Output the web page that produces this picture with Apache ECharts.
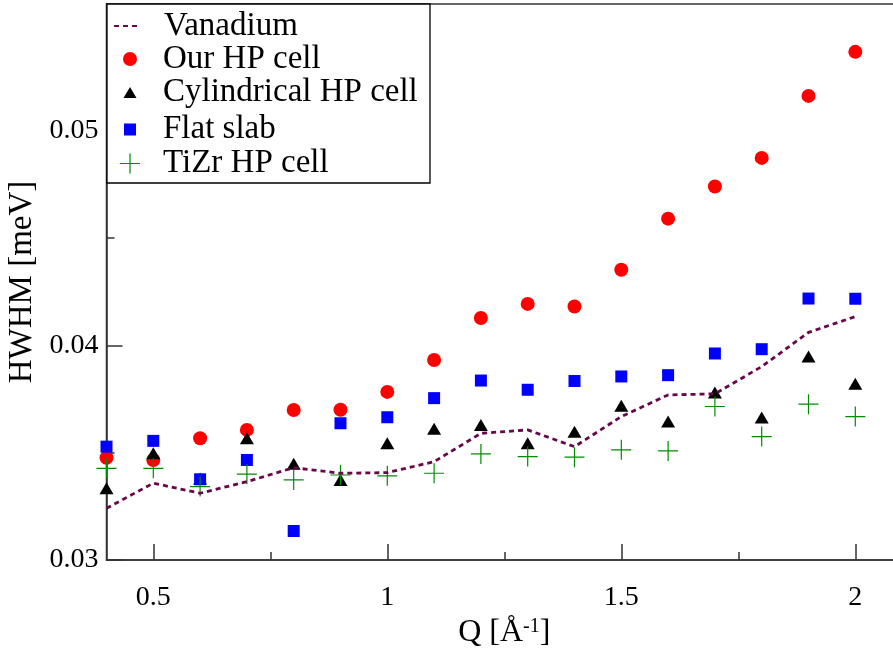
<!DOCTYPE html>
<html>
<head>
<meta charset="utf-8">
<script src="https://cdn.jsdelivr.net/npm/echarts@6/dist/echarts.min.js"></script>
<style>
html,body{margin:0;padding:0;background:#fff;}
#chart{width:893px;height:648px;}
</style>
</head>
<body>
<div id="chart"></div>
<script>
const q = [0.4,0.5,0.6,0.7,0.8,0.9,1.0,1.1,1.2,1.3,1.4,1.5,1.6,1.7,1.8,1.9,2.0];
const vanadium = [0.03241,0.03358,0.03311,0.03365,0.0343,0.03404,0.03407,0.03458,0.0359,0.03606,0.03528,0.03668,0.03769,0.03774,0.03901,0.0406,0.04134];
const ourHP = [0.03476,0.03466,0.03567,0.03606,0.03699,0.037,0.03783,0.03932,0.04127,0.04193,0.04181,0.04352,0.0459,0.0474,0.04873,0.05162,0.05367];
const cylindrical = [0.03334,0.03497,0.0338,0.03567,0.03448,0.03373,0.03544,0.03611,0.03629,0.03544,0.03598,0.03719,0.03645,0.0378,0.03664,0.03948,0.03821];
const flatSlab = [0.03528,0.03555,0.03376,0.03466,0.03135,0.03637,0.03665,0.03754,0.03836,0.03793,0.03834,0.03855,0.03861,0.03962,0.03982,0.04218,0.04217];
const tizr = [0.03427,0.03427,0.03342,0.034,0.03373,0.03396,0.03392,0.03404,0.03494,0.03482,0.03479,0.03513,0.03508,0.03715,0.03575,0.03726,0.03668];
const xMajorTicks = [0.5,1,1.5,2];
const xMinorTicks = [0.75,1.25,1.75];
const yMajorTicks = [0.03,0.04,0.05];
const yMinorTicks = [0.035,0.045];
const names = ['Vanadium','Our HP cell','Cylindrical HP cell','Flat slab','TiZr HP cell'];

const pair = arr => q.map((x,i)=>[x,arr[i]]);
const FONT = 'Liberation Serif';
const AX = '#333';
const plusPath = 'path://M0,9.4H20V10.6H0Z M9.4,0H10.6V20H9.4Z';

const chart = echarts.init(document.getElementById('chart'));
function lg(name, left, top, w, h, gap, icon, extra){
  const item = Object.assign({name:name}, extra || {});
  if (icon) item.icon = icon;
  return {data:[item], left:left, top:top, padding:0, itemWidth:w, itemHeight:h,
    textStyle:{fontFamily:FONT, fontSize:33, color:'#000', padding:[0,0,0,gap-5]},
    selectedMode:false, orient:'vertical', z:10};
}
chart.setOption({
  backgroundColor:'#fff',
  animation:false,
  grid:{left:106.5, top:4, width:795.6, height:556, show:true, borderColor:AX, borderWidth:1.5,
    backgroundColor:'transparent', outerBoundsMode:'none', containLabel:false},
  graphic:[{type:'rect', shape:{x:107, y:4, width:323, height:179}, style:{fill:'#fff', stroke:'#000', lineWidth:1.3}, z:5}],
  legend:[
    lg(names[0], 113, 9.5, 27, 14, 23, null, {itemStyle:{opacity:0, color:'rgba(0,0,0,0)', borderWidth:0}}),
    lg(names[1], 123, 42.5, 14, 14, 26),
    lg(names[2], 123.5, 76, 13, 11, 26.5),
    lg(names[3], 124, 113, 12, 12, 27),
    lg(names[4], 120, 147, 20, 20, 23, plusPath)
  ],
  xAxis:[{
    type:'value', min:0.4, max:2.1, position:'bottom',
    name:'Q [Å{sup|-1}]', nameLocation:'middle', nameGap:51,
    nameTextStyle:{fontFamily:FONT, fontSize:32, color:'#000', rich:{sup:{fontFamily:FONT, fontSize:20, verticalAlign:'top', color:'#000', padding:[0,0,6,0]}}},
    axisLine:{show:true, lineStyle:{color:AX, width:1.5}},
    axisTick:{show:true, inside:true, length:16, customValues:xMajorTicks, lineStyle:{color:AX, width:1.5}},
    axisLabel:{customValues:xMajorTicks, fontFamily:FONT, fontSize:28, color:'#000', margin:24},
    splitLine:{show:false}
  },{
    type:'value', min:0.4, max:2.1, position:'bottom', offset:0,
    axisLine:{show:false},
    axisTick:{show:true, inside:true, length:8, customValues:xMinorTicks, lineStyle:{color:AX, width:1.5}},
    axisLabel:{show:false}, splitLine:{show:false}
  }],
  yAxis:[{
    type:'value', min:0.03, max:0.0559, position:'left',
    name:'HWHM [meV]', nameLocation:'middle', nameGap:55,
    nameTextStyle:{fontFamily:FONT, fontSize:33, color:'#000'},
    axisLine:{show:true, lineStyle:{color:AX, width:1.5}},
    axisTick:{show:true, inside:true, length:16, customValues:yMajorTicks, lineStyle:{color:AX, width:1.5}},
    axisLabel:{customValues:yMajorTicks, fontFamily:FONT, fontSize:28, color:'#000', margin:8},
    splitLine:{show:false}
  },{
    type:'value', min:0.03, max:0.0559, position:'left', offset:0,
    axisLine:{show:false},
    axisTick:{show:true, inside:true, length:8, customValues:yMinorTicks, lineStyle:{color:AX, width:1.5}},
    axisLabel:{show:false}, splitLine:{show:false}
  }],
  series:[
    {name:names[0], type:'line', data:pair(vanadium), symbol:'none', clip:false,
      lineStyle:{color:'#670748', width:2.8, type:[5,4]}, itemStyle:{color:'#670748'}},
    {name:names[1], type:'scatter', data:pair(ourHP), symbol:'circle', symbolSize:14, clip:false, itemStyle:{color:'#ff0000', opacity:1}},
    {name:names[2], type:'scatter', data:pair(cylindrical), symbol:'triangle', symbolSize:[14,12], clip:false, itemStyle:{color:'#000000', opacity:1}},
    {name:names[3], type:'scatter', data:pair(flatSlab), symbol:'rect', symbolSize:12, clip:false, itemStyle:{color:'#0000ff', opacity:1}},
    {name:names[4], type:'scatter', data:pair(tizr), symbol:plusPath, symbolSize:20, clip:false, itemStyle:{color:'#008b00', opacity:1}}
  ]
});
</script>
</body>
</html>
